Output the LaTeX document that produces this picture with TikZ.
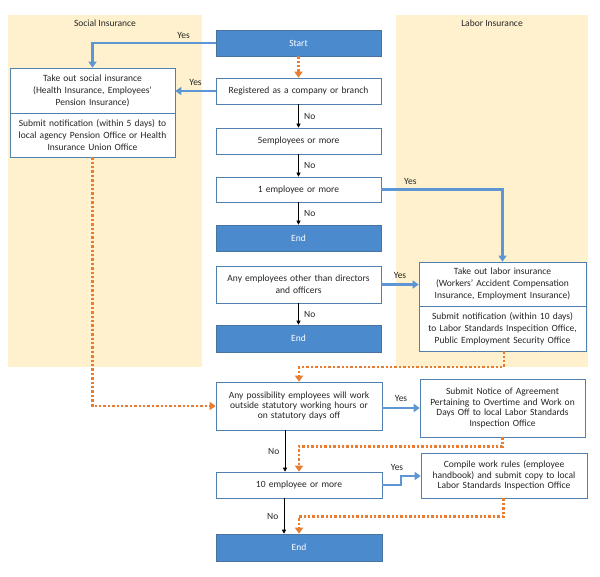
\documentclass[tikz,border=0pt]{standalone}
\usepackage{fontspec}
\setmainfont{Carlito}
\usepackage{tikz}
\usetikzlibrary{arrows.meta, positioning}
\definecolor{zoneshade}{RGB}{255,241,206}
\definecolor{termblue}{RGB}{76,138,206}
\definecolor{boxedge}{RGB}{80,128,176}
\definecolor{flowblue}{RGB}{93,150,210}
\definecolor{flowamber}{RGB}{232,125,50}

\begin{document}
\begin{tikzpicture}[x=1pt, y=-1pt,
    every node/.style={font=\fontsize{9.5}{12}\selectfont, text=black!85},
    stepbox/.style={draw=boxedge, fill=white, line width=0.6pt, align=center,
                    minimum width=#1, text width=#1-4pt, inner sep=0pt},
    stepbox/.default=165pt,
    tightbox/.style={stepbox=#1, font=\fontsize{9.5}{10.4}\selectfont},
    tightbox/.default=165pt,
    termbox/.style={fill=termblue, draw=boxedge!90!black, line width=0.6pt, text=white,
                    minimum width=165pt, minimum height=26pt, inner sep=0pt},
    yesflow/.style={draw=flowblue, line width=2.6pt, -{Triangle[length=6pt, width=8pt]}},
    noflow/.style={draw=black, line width=0.6pt, -{Triangle[length=4pt, width=4pt]}},
    dotflow/.style={draw=flowamber, line width=2.4pt, dotted, line cap=butt,
                    -{Triangle[length=6pt, width=8pt]}}]
  \useasboundingbox (0,0) rectangle (600,577);
  % insurance zones
  \fill[zoneshade] (8,15) rectangle (202,367);
  \fill[zoneshade] (396,15) rectangle (588,367);
  \node (soctitle) at (105,23) {Social Insurance};
  \node (labtitle) at (492,23) {Labor Insurance};

  % main column
  \node[termbox] (start) at (298.5,43) {Start};
  \node[stepbox, minimum height=26pt] (reg) at (298.5,91) {Registered as a company or branch};
  \node[stepbox, minimum height=26pt] (five) at (298.5,141) {5employees or more};
  \node[stepbox, minimum height=25pt] (one) at (298.5,189.5) {1 employee or more};
  \node[termbox] (endA) at (298.5,238) {End};
  \node[stepbox, minimum height=37pt] (anyemp) at (298.5,284.5) {Any employees other than directors\\and officers};
  \node[termbox, minimum height=27pt] (endB) at (298.5,338.5) {End};

  % social insurance
  \node[stepbox, minimum height=45pt] (sochead) at (92.5,90.5)
    {Take out social insurance\\(Health Insurance, Employees'\\Pension Insurance)};
  \node[stepbox, minimum height=44pt] (socbody) at (92.5,135)
    {Submit notification (within 5 days) to\\local agency Pension Office or Health\\Insurance Union Office};

  % labor insurance
  \node[stepbox=167pt, minimum height=44pt] (labhead) at (502.5,284)
    {Take out labor insurance\\(Workers' Accident Compensation\\Insurance, Employment Insurance)};
  \node[stepbox=167pt, minimum height=45pt] (labbody) at (502.5,328.5)
    {Submit notification (within 10 days)\\to Labor Standards Inspecition Office,\\Public Employment Security Office};

  % lower part
  \node[tightbox=166pt, minimum height=48pt] (possib) at (299,406)
    {Any possibility employees will work\\outside statutory working hours or\\on statutory days off};
  \node[tightbox, minimum height=58pt] (notice) at (502.5,408)
    {Submit Notice of Agreement\\Pertaining to Overtime and Work on\\Days Off to local Labor Standards\\Inspection Office};
  \node[tightbox=166pt, minimum height=26pt] (tenemp) at (299,485) {10 employee or more};
  \node[tightbox=166pt, minimum height=45pt] (compile) at (504,475.5)
    {Compile work rules (employee\\handbook) and submit copy to local\\Labor Standards Inspection Office};
  \node[termbox, minimum width=166pt, minimum height=27pt] (endC) at (299,547.5) {End};

  % connectors
  \draw[yesflow] (start.west) -| node[pos=0.13, above] {Yes} (sochead.north);
  \draw[yesflow] (reg.west) -- node[above=1pt] {Yes} (sochead.east |- reg.west);
  \draw[dotflow] (start.south) -- (reg.north);
  \draw[noflow] (reg) -- node[right=2pt] {No} (five);
  \draw[noflow] (five) -- node[right=2pt] {No} (one);
  \draw[noflow] (one) -- node[right=2pt] {No} (endA);
  \draw[yesflow] (one.east) -| node[pos=0.12, above] {Yes} (labhead.north);
  \draw[yesflow] (anyemp.east) -- node[above=1pt] {Yes} (labhead.west |- anyemp.east);
  \draw[noflow] (anyemp) -- node[right=2pt] {No} (endB);

  \draw[dotflow] (socbody.south) |- (possib.west);
  \draw[dotflow] ([xshift=1.5pt]labbody.south) -- ++(0,16) -| (possib.north);
  \draw[yesflow] (possib.east |- notice.west) -- node[above=2pt] {Yes} (notice.west);
  \draw[noflow] ([xshift=-14pt]possib.south) -- node[left=2pt] {No} ([xshift=-14pt]tenemp.north);
  \draw[dotflow] (notice.south) -- ++(0,9) -| (tenemp.north);
  \coordinate (jog) at (401,476);
  \draw[yesflow] (tenemp.east) -| (jog) -- (compile.west |- jog);
  \node (tenyes) at (397,467) {Yes};
  \draw[noflow] ([xshift=-15pt]tenemp.south) -- node[left=2pt] {No} ([xshift=-15pt]endC.north);
  \draw[dotflow] ([xshift=-0.5pt]compile.south) -- ++(0,18) -| (endC.north);
\end{tikzpicture}
\end{document}
